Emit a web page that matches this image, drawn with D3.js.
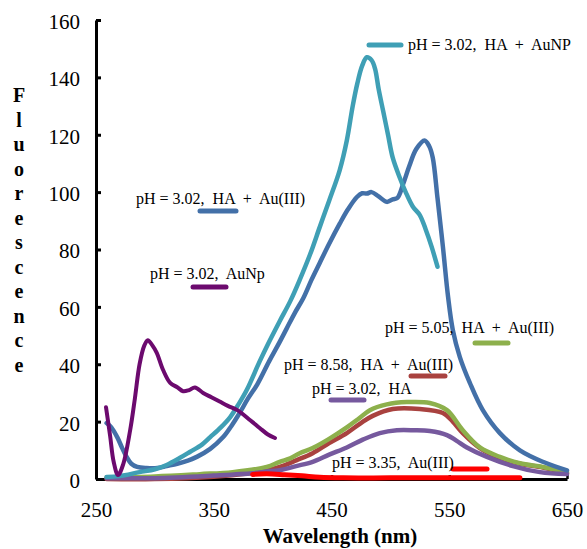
<!DOCTYPE html>
<html><head><meta charset="utf-8">
<script src="https://cdn.jsdelivr.net/npm/d3@7"></script>
<style>
html,body{margin:0;padding:0;background:#fff;}
svg{display:block;}
text{font-family:"Liberation Serif","Times New Roman",serif;fill:#000;}
</style></head>
<body>
<svg id="chart" width="587" height="549"></svg>
<script>
// ---- data (wavelength nm, fluorescence) ----
const xTicks = [250, 350, 450, 550, 650];
const yTicks = [0, 20, 40, 60, 80, 100, 120, 140, 160];

const haAuNP_302 = [[259,0.7],[270,1],[287,2.4],[300,3.4],[310,4.9],[321,7.3],[330,9.5],[340,12],[347,14.6],[356,18],[364,21.6],[371,26],[378,31],[389,41],[396,47],[406,55],[415,62],[423,69.4],[432,78.5],[440,87.8],[448,97],[457,107.7],[463,118],[468,130],[472,138],[476,144],[480,147],[484,146],[487,143],[490,136],[494,128],[498,120],[502,112],[508,105],[513,100],[519,95],[525,92],[530,87],[535,81],[540,74]];

const haAuIII_302 = [[259,19.5],[263,18],[268,14.6],[272,11],[276,7.7],[280,5.3],[285,4.2],[293,3.8],[302,3.8],[310,4.5],[319,5.3],[328,6.4],[336,7.8],[347,10.5],[358,14.6],[365,18.5],[372,23],[379,28],[387,33],[397,41],[405,47],[412,52.5],[419,58],[426,63],[433,69.4],[440,75.3],[448,82],[457,89],[464,94],[471.6,98.3],[476,99.6],[480,99.5],[484,100],[490,98.5],[497,96.6],[502,97.5],[506,98],[511,103],[516,109],[522,115],[529,118],[533,116],[536,112],[540,98],[544.6,81],[549,63.5],[553,52],[559,42.5],[567.5,33.5],[578.5,24],[593,16],[610,10],[629.5,6],[650,3]];

const auNp_302 = [[258.5,25],[262,15],[265,6],[268.7,1.4],[273,5],[279,17],[283,28],[287,40],[291,46.5],[294,48.4],[298,46.5],[301.6,44],[307,38],[313,33.5],[319,32],[324,30.6],[329,31],[334,31.9],[341,30],[348,28.5],[355,27],[362,25.5],[370,24],[381,20.5],[389,17.8],[396,15.5],[402,14.3]];

const haAuIII_505 = [[259,0.5],[300,0.9],[338,1.7],[366,2.4],[395,4.2],[406,6],[415,7.2],[423,9],[434,10.8],[448,14],[463,18],[473,21],[482.6,24],[497,26],[514,26.8],[533.5,26.5],[548,24],[561.5,17],[576,11],[593,7.7],[610,5.5],[629.5,4.2],[650,2.4]];

const haAuIII_858 = [[259,0],[300,0],[350,0.8],[380,2],[395,3],[406,4.2],[420,6.5],[434,9],[448,12.5],[463,16],[475,19.5],[485,22],[502,24.4],[525,24.4],[544.6,23],[553,20],[561.5,16],[576,10.8],[593,7.3],[610,5.3],[629.5,4],[650,2]];

const ha_302 = [[259,0.3],[300,0.3],[350,1.2],[383,2],[395,2.6],[406,3.1],[420,4.5],[434,6],[448,8.5],[463,11],[477,13.8],[491,16],[505.5,17],[520,17],[533.5,16.7],[548,15.3],[556,13.4],[565,11],[582,7.7],[604,4.5],[627,2.4],[650,1.7]];

const auIII_335 = [[383,1.6],[395,1.8],[410,1.5],[425,1.1],[440,0.6],[460,0.4],[500,0.4],[550,0.4],[610,0.4]];

const seriesNames = [
  "pH = 3.02,  HA  +  AuNP",
  "pH = 3.02,  HA  +  Au(III)",
  "pH = 3.02,  AuNp",
  "pH = 5.05,  HA  +  Au(III)",
  "pH = 8.58,  HA  +  Au(III)",
  "pH = 3.02,  HA",
  "pH = 3.35,  Au(III)"
];

// ---- layout ----
const svg = d3.select("#chart");
const x = d3.scaleLinear().domain([250, 650]).range([96, 567]);
const y = d3.scaleLinear().domain([0, 160]).range([479, 20]);

const series = [
  {name: seriesNames[4], data: haAuIII_858, color: "#a9423f", w: 4.5,
   lg: {tx: 284, ty: 370, sx1: 411, sx2: 445, sy: 376}},
  {name: seriesNames[3], data: haAuIII_505, color: "#8db04c", w: 4.5,
   lg: {tx: 385, ty: 333, sx1: 475, sx2: 508, sy: 343}},
  {name: seriesNames[5], data: ha_302, color: "#76599e", w: 4.5,
   lg: {tx: 312, ty: 394, sx1: 331, sx2: 364, sy: 400}},
  {name: seriesNames[1], data: haAuIII_302, color: "#4370a8", w: 4.5,
   lg: {tx: 136, ty: 204, sx1: 200, sx2: 236, sy: 211}},
  {name: seriesNames[0], data: haAuNP_302, color: "#3f9fb5", w: 4.5,
   lg: {tx: 408, ty: 50, sx1: 369, sx2: 401, sy: 45}},
  {name: seriesNames[2], data: auNp_302, color: "#6c0a6e", w: 4,
   lg: {tx: 150, ty: 279, sx1: 193, sx2: 226, sy: 287}},
  {name: seriesNames[6], data: auIII_335, color: "#ff0000", w: 5,
   lg: {tx: 332, ty: 468, sx1: 453, sx2: 487, sy: 469}}
];

// ---- axes ----
const xAxis = d3.axisBottom(x).tickValues(xTicks).tickSizeInner(-4).tickSizeOuter(0).tickPadding(23);
const gx = svg.append("g").attr("transform", `translate(0,${y(0)})`).call(xAxis);
gx.select(".domain").attr("stroke", "#000").attr("stroke-width", 3);
gx.selectAll(".tick line").attr("stroke", "#000").attr("stroke-width", 2.5);
gx.selectAll(".tick text").attr("font-size", 21).attr("font-family", "Liberation Serif");

const yAxis = d3.axisLeft(y).tickValues(yTicks).tickSizeInner(-5).tickSizeOuter(0).tickPadding(16);
const gy = svg.append("g").attr("transform", `translate(${x(250)},0)`).call(yAxis);
gy.select(".domain").attr("stroke", "#000").attr("stroke-width", 3);
gy.selectAll(".tick line").attr("stroke", "#000").attr("stroke-width", 3);
gy.selectAll(".tick text").attr("font-size", 21).attr("font-family", "Liberation Serif").attr("dy", "0.4em");

// axis titles
svg.append("text").attr("x", 340).attr("y", 543).attr("text-anchor", "middle")
  .attr("font-size", 21).attr("font-weight", "bold").text("Wavelength (nm)");

const yTitle = svg.append("text").attr("font-size", 20).attr("font-weight", "bold").attr("text-anchor", "middle");
"Fluorescence".split("").forEach((ch, i) => {
  yTitle.append("tspan").attr("x", 19).attr("y", 102 + i * 24.5).text(ch);
});

// ---- lines ----
const line = d3.line().x(d => x(d[0])).y(d => y(d[1])).curve(d3.curveCatmullRom.alpha(0.5));
series.forEach(s => {
  svg.append("path").datum(s.data).attr("d", line)
    .attr("fill", "none").attr("stroke", s.color).attr("stroke-width", s.w)
    .attr("stroke-linejoin", "round").attr("stroke-linecap", "round");
});

// ---- legend labels ----
series.forEach(s => {
  svg.append("line").attr("x1", s.lg.sx1).attr("x2", s.lg.sx2).attr("y1", s.lg.sy).attr("y2", s.lg.sy)
    .attr("stroke", s.color).attr("stroke-width", 5).attr("stroke-linecap", "round");
  svg.append("text").attr("x", s.lg.tx).attr("y", s.lg.ty).attr("font-size", 16)
    .attr("xml:space", "preserve").style("white-space", "pre").text(s.name);
});
</script>
</body></html>
